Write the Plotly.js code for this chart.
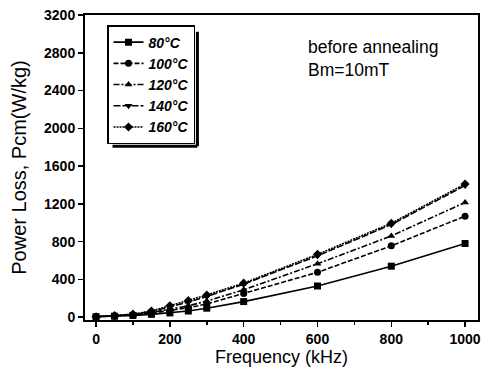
<!DOCTYPE html>
<html>
<head>
<meta charset="utf-8">
<script src="https://cdn.plot.ly/plotly-3.0.1.min.js"></script>
<style>html,body{margin:0;padding:0;background:#fff;}#chart{width:484px;height:369px;}</style>
</head>
<body>
<div id="chart"></div>
<script>
const freq = [0, 50, 100, 150, 200, 250, 300, 400, 600, 800, 1000];
const loss80 = [5, 10, 18, 30, 45, 65, 95, 165, 330, 540, 780];
const loss100 = [5, 12, 22, 42, 70, 100, 140, 250, 475, 755, 1070];
const loss120 = [5, 14, 26, 50, 85, 120, 170, 290, 565, 860, 1215];
const loss140 = [5, 15, 30, 60, 110, 160, 220, 350, 650, 980, 1395];
const loss160 = [5, 16, 32, 65, 120, 175, 235, 360, 665, 995, 1410];
const seriesNames = ['80°C', '100°C', '120°C', '140°C', '160°C'];
const xTicks = [0, 200, 400, 600, 800, 1000];
const yTicks = [0, 400, 800, 1200, 1600, 2000, 2400, 2800, 3200];

const seriesData = [loss80, loss100, loss120, loss140, loss160];
const symbols = ['square', 'circle', 'triangle-up', 'triangle-down', 'diamond'];
const dashes = ['solid', '5px,2px', '6px,2px,2px,2px', '7px,2px', '2px,1px'];
const traces = seriesData.map((ys, i) => ({
  x: freq, y: ys, name: seriesNames[i], type: 'scatter', mode: 'lines+markers',
  line: {color: '#000', width: 1.6, dash: dashes[i]},
  marker: {symbol: symbols[i], size: 7, color: '#000'}
}));

const layout = {
  width: 484, height: 369,
  margin: {l: 85, r: 6, t: 15, b: 49},
  paper_bgcolor: '#fff', plot_bgcolor: '#fff',
  font: {family: 'Liberation Sans, Arial, sans-serif', color: '#000'},
  showlegend: true,
  legend: {
    x: 0.056, y: 0.967, xanchor: 'left', yanchor: 'top',
    bordercolor: '#000', borderwidth: 1.5, bgcolor: '#fff',
    font: {size: 14, weight: 'bold', style: 'italic', color: '#000'},
    tracegroupgap: 0, itemwidth: 30
  },
  xaxis: {
    range: [-30, 1035], tickvals: xTicks, ticktext: xTicks.map(String),
    ticks: 'outside', ticklen: 5, tickwidth: 1.5, tickcolor: '#000',
    showline: true, linecolor: '#000', linewidth: 2, mirror: true,
    showgrid: false, zeroline: false,
    tickfont: {size: 14, weight: 'bold'},
    minor: {dtick: 100, tick0: 0, ticks: 'outside', ticklen: 3, tickcolor: '#000', showgrid: false},
    title: {text: 'Frequency (kHz)', font: {size: 18}, standoff: 0}
  },
  yaxis: {
    range: [-30, 3200], tickvals: yTicks, ticktext: yTicks.map(String),
    ticks: 'outside', ticklen: 5, tickwidth: 1.5, tickcolor: '#000',
    showline: true, linecolor: '#000', linewidth: 2, mirror: true,
    showgrid: false, zeroline: false,
    tickfont: {size: 14, weight: 'bold'},
    title: {text: 'Power Loss, Pcm(W/kg)', font: {size: 20}, standoff: 12}
  },
  shapes: [
    {type: 'line', xref: 'paper', yref: 'paper', layer: 'above',
     x0: 0.07, x1: 0.286, y0: 0.57, y1: 0.57, line: {color: '#000', width: 3}},
    {type: 'line', xref: 'paper', yref: 'paper', layer: 'above',
     x0: 0.286, x1: 0.286, y0: 0.57, y1: 0.945, line: {color: '#000', width: 3}}
  ],
  annotations: [{
    xref: 'paper', yref: 'paper', x: 0.562, y: 0.935, xanchor: 'left', yanchor: 'top',
    text: 'before annealing<br>Bm=10mT', showarrow: false, align: 'left',
    font: {size: 17.5, color: '#000'}
  }]
};

Plotly.newPlot('chart', traces, layout, {displayModeBar: false, staticPlot: true});
</script>
</body>
</html>
